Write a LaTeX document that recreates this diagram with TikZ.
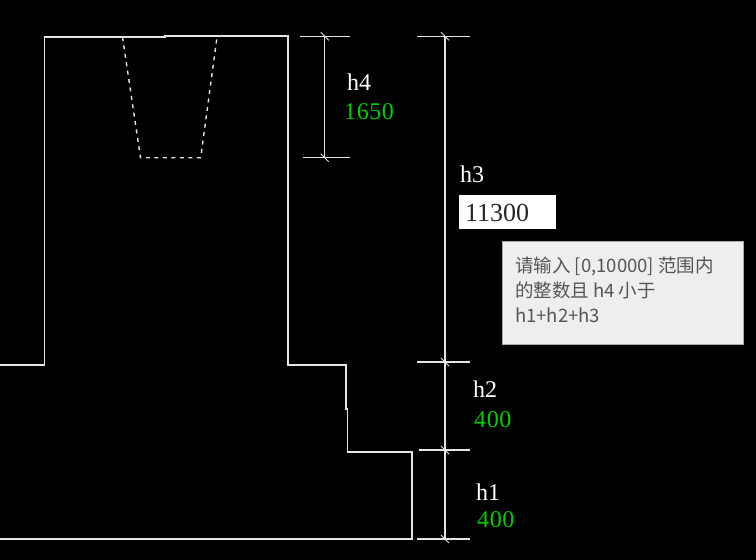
\documentclass[tikz,border=0pt]{standalone}
\usepackage{fontspec}
\setmainfont{Liberation Serif}
\newfontfamily\tipfont{Noto Sans CJK SC}
\newfontfamily\valfont[LetterSpace=2.5]{Liberation Serif}
\definecolor{linegray}{HTML}{E4E4E4}
\definecolor{dimgreen}{HTML}{00D000}
\definecolor{tipfill}{HTML}{EEEEEE}
\definecolor{tipedge}{HTML}{A8A8A8}
\definecolor{tiptext}{HTML}{555555}
\tikzset{
  outline/.style={draw=linegray,line width=1.5pt},
  hidden/.style={draw=linegray,line width=1.4pt,dash pattern=on 4pt off 4.5pt},
  dimline/.style={draw=linegray,line width=1.4pt},
  ticklen/.style={draw=linegray,line width=0.9pt},
  namelabel/.style={anchor=base west,inner sep=0pt,text=white,font=\fontsize{24}{24}\selectfont},
  vallabel/.style={anchor=base west,inner sep=0pt,text=dimgreen,font=\valfont\fontsize{24}{24}\selectfont},
  tipline/.style={anchor=base west,inner sep=0pt,text=tiptext,font=\tipfont\fontsize{18.5}{18.5}\selectfont}
}
\begin{document}
\begin{tikzpicture}[x=1pt,y=-1pt]
\useasboundingbox[fill=black] (0,0) rectangle (756,560);
% outline
\draw[outline] (0,365) -- (44.5,365) -- (44.5,37) -- (165,37) -- (165,36) -- (288,36) -- (288,365) -- (346,365) -- (346,409) -- (347.5,409) -- (347.5,452) -- (412,452) -- (412,539) -- (0,539);
% hidden trapezoid
\draw[hidden] (122.5,37) -- (140.5,157.7) -- (200.7,157.7) -- (217,37);
% dimension h4
\coordinate (d4t) at (324.7,36.3);
\coordinate (d4b) at (324.7,157.7);
\draw[dimline] (d4t) -- (d4b);
\draw[dimline] (300,36.3) -- (350,36.3);
\draw[dimline] (303,157.7) -- (350,157.7);
\draw[ticklen] ([shift={(-4,-4)}]d4t) -- ([shift={(4,4)}]d4t);
\draw[ticklen] ([shift={(-4,-4)}]d4b) -- ([shift={(4,4)}]d4b);
% dimension chain
\coordinate (c3) at (445,36.3);
\coordinate (c2) at (445,362);
\coordinate (c1) at (445,450);
\coordinate (c0) at (445,539);
\draw[dimline] (c3) -- (c2) -- (c1) -- (c0);
\draw[dimline] (417,36.3) -- (470,36.3);
\draw[dimline] (417,362) -- (470,362);
\draw[dimline] (419,450) -- (470,450);
\draw[dimline] (417,539) -- (470,539);
\foreach \p in {c3,c2,c1,c0}
  \draw[ticklen] ([shift={(-4,-4)}]\p) -- ([shift={(4,4)}]\p);
% labels
\node[namelabel] (h4) at (347,90) {h4};
\node[vallabel] (v4) at (344,119) {1650};
\node[namelabel] (h3) at (460,182) {h3};
\node[namelabel] (h2) at (473,397) {h2};
\node[vallabel] (v2) at (474,427) {400};
\node[namelabel] (h1) at (476,500) {h1};
\node[vallabel] (v1) at (477,527) {400};
% input box
\fill[white] (459.3,195) rectangle (555.7,229.3);
\node[anchor=base west,inner sep=0pt,text=black!85,font=\fontsize{26}{26}\selectfont] (inp) at (465,221) {11300};
% tooltip
\draw[fill=tipfill,draw=tipedge,line width=0.8pt] (502.5,241) rectangle (743,344);
\node[tipline] (t1) at (515,272) {请输入 [0,10000] 范围内};
\node[tipline] (t2) at (515,297) {的整数且 h4 小于};
\node[tipline] (t3) at (515,322) {h1+h2+h3};
\end{tikzpicture}
\end{document}
